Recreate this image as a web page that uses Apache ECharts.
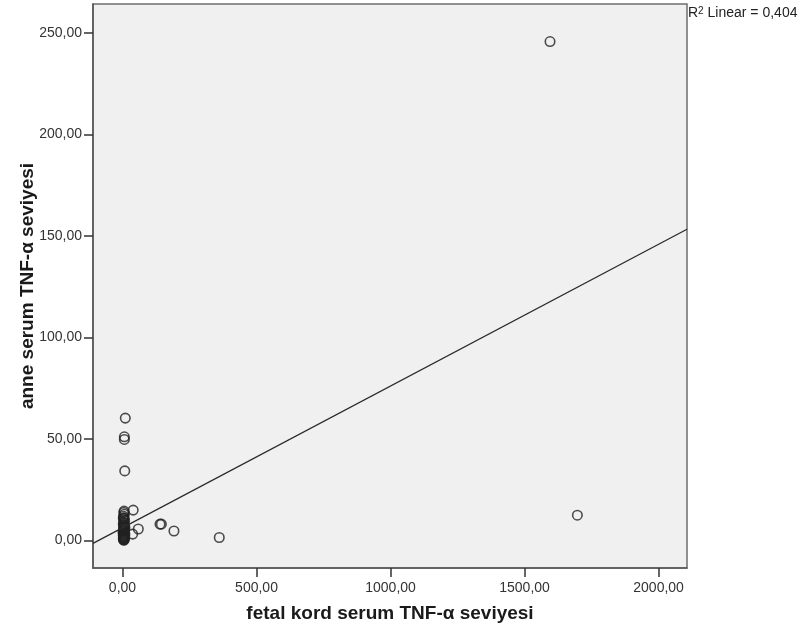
<!DOCTYPE html>
<html>
<head>
<meta charset="utf-8">
<script src="https://cdn.jsdelivr.net/npm/echarts@6/dist/echarts.min.js"></script>
<style>
html,body{margin:0;padding:0;background:#fff;}
#chart{width:801px;height:634px;}
</style>
</head>
<body>
<div id="chart"></div>
<script>
// fetal kord serum TNF-α seviyesi (x) and anne serum TNF-α seviyesi (y)
const fetalValues = [1595, 1697, 361, 192, 140, 145, 59, 38, 40, 10.5, 7, 7, 8.5,
  6, 5, 7, 4, 6, 5, 8, 4, 6, 3, 7, 5, 4, 8, 6, 3, 5, 7, 4, 6, 3, 8, 5, 4, 6, 3, 7, 5, 4, 6, 8, 9, 2, 9, 3];
const anneValues = [245.7, 12.5, 1.5, 4.7, 8.1, 8.1, 5.7, 3.2, 15, 60.3, 51.1, 49.8, 34.3,
  14.5, 13.8, 13, 12, 11.2, 10.5, 9.8, 9, 8.5, 8, 7.5, 7, 6.5, 6, 5.5, 5, 4.5, 4, 3.5, 3, 2.5, 2.2, 2, 1.5, 1.2, 1, 0.8, 0.5, 0.3, 0.2, 1.8, 3.2, 4, 6.5, 11];
const xTicks = [0, 500, 1000, 1500, 2000];
const yTicks = [0, 50, 100, 150, 200, 250];
const xRange = [-110, 2106];
const yRange = [-13.5, 264.2];
const lineIntercept = 6.27;
const lineSlope = 0.0698;
const r2Text = '0,404';

const points = fetalValues.map((x, i) => [x, anneValues[i]]);
const fitLine = xRange.map(x => [x, lineIntercept + lineSlope * x]);
const fmt = v => v.toFixed(2).replace('.', ',');
const FONT = 'Liberation Sans, Arial, sans-serif';

const chart = echarts.init(document.getElementById('chart'), null, {renderer: 'canvas'});
chart.setOption({
  animation: false,
  backgroundColor: '#ffffff',
  textStyle: {fontFamily: FONT},
  grid: {left: 93, right: 114, top: 4, bottom: 66, show: true, backgroundColor: '#f0f0f0', borderColor: '#6e6e6e', borderWidth: 1.5},
  xAxis: {
    type: 'value', min: xRange[0], max: xRange[1],
    splitLine: {show: false},
    axisLine: {show: true, onZero: false, lineStyle: {color: '#555', width: 1.5}},
    axisTick: {show: true, length: 9, customValues: xTicks, lineStyle: {color: '#333', width: 1.5}},
    axisLabel: {customValues: xTicks, formatter: fmt, color: '#333', fontSize: 14, margin: 13},
    name: 'fetal kord serum TNF-α seviyesi', nameLocation: 'middle', nameGap: 36, nameMoveOverlap: false,
    nameTextStyle: {fontWeight: 'bold', fontSize: 19, color: '#1a1a1a'}
  },
  yAxis: {
    type: 'value', min: yRange[0], max: yRange[1],
    splitLine: {show: false},
    axisLine: {show: true, onZero: false, lineStyle: {color: '#555', width: 1.5}},
    axisTick: {show: true, length: 9, customValues: yTicks, lineStyle: {color: '#333', width: 1.5}},
    axisLabel: {customValues: yTicks, formatter: fmt, color: '#333', fontSize: 14, margin: 11},
    name: 'anne serum TNF-α seviyesi', nameLocation: 'middle', nameGap: 56, nameMoveOverlap: false,
    nameTextStyle: {fontWeight: 'bold', fontSize: 19, color: '#1a1a1a'}
  },
  graphic: [{
    type: 'text', left: 688, top: 6,
    style: {
      text: '{a|R}{s|2}{a| Linear = ' + r2Text + '}',
      rich: {
        a: {fontSize: 14, fill: '#222', fontFamily: FONT},
        s: {fontSize: 10, fill: '#222', verticalAlign: 'top', padding: [0,0,5,0], fontFamily: FONT}
      }
    }
  }],
  series: [{
    type: 'line', data: fitLine, symbol: 'none', silent: true,
    lineStyle: {color: '#2a2a2a', width: 1.3}
  }, {
    type: 'scatter', data: points, symbol: 'circle', symbolSize: 9.5,
    itemStyle: {color: 'rgba(0,0,0,0)', borderColor: '#222', borderWidth: 1.6}
  }]
});
</script>
</body>
</html>
